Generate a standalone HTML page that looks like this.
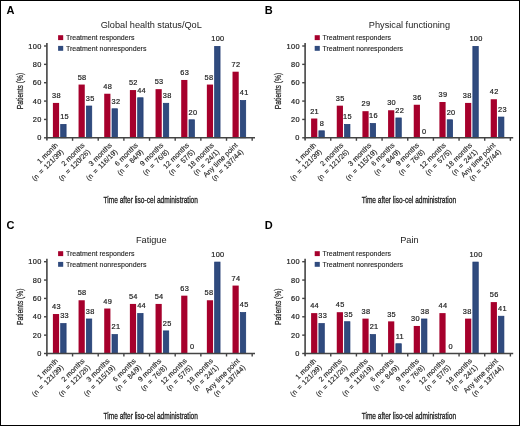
<!DOCTYPE html>
<html><head><meta charset="utf-8"><style>
html,body{margin:0;padding:0;background:#fff;}
svg{display:block;will-change:transform;}
text{font-family:"Liberation Sans", sans-serif;fill:#222;}
.let{font-size:11px;font-weight:bold;fill:#000;}
.ttl{font-size:9.2px;text-anchor:middle;}
.leg{font-size:7.4px;stroke:#222;stroke-width:0.12px;}
.axt{font-size:9.5px;stroke:#222;stroke-width:0.32px;}
.yt{stroke-width:0.25px;}
.num{font-size:7.4px;letter-spacing:0.3px;text-anchor:middle;stroke:#222;stroke-width:0.2px;}
.ytl{font-size:7.4px;letter-spacing:0.3px;text-anchor:end;stroke:#222;stroke-width:0.2px;}
.cat{font-size:7.2px;text-anchor:end;stroke:#222;stroke-width:0.12px;}
.l2{word-spacing:1.1px;}
</style></head><body>
<svg width="520" height="426" viewBox="0 0 520 426">
<rect x="0" y="0" width="520" height="426" fill="#fff"/>
<g transform="translate(0,0)">
<text class="let" x="6.6" y="13.7">A</text>
<text class="ttl" x="151.25" y="27.7">Global health status/QoL</text>
<rect x="58.1" y="35.2" width="5.1" height="4.9" fill="#a6002c"/>
<rect x="58.1" y="45.9" width="5.1" height="4.9" fill="#304b7e"/>
<text class="leg" x="65.9" y="39.6" textLength="68.6" lengthAdjust="spacingAndGlyphs">Treatment responders</text>
<text class="leg" x="65.9" y="50.6" textLength="80.5" lengthAdjust="spacingAndGlyphs">Treatment nonresponders</text>
<text class="axt yt" transform="translate(22.8,91) rotate(-90)" text-anchor="middle" textLength="36.5" lengthAdjust="spacingAndGlyphs">Patients (%)</text>
<text class="axt" x="150.7" y="203.1" text-anchor="middle" textLength="94.5" lengthAdjust="spacingAndGlyphs">Time after liso-cel administration</text>
<rect x="52.9" y="102.92" width="6.2" height="34.88" fill="#a6002c"/>
<rect x="60.7" y="124.38" width="5.4" height="13.42" fill="#304b7e" stroke="#1c3870" stroke-width="0.7"/>
<text class="num" x="56.4" y="98.12">38</text>
<text class="num" x="64.6" y="119.23">15</text>
<rect x="78.56" y="84.56" width="6.2" height="53.24" fill="#a6002c"/>
<rect x="86.36" y="106.02" width="5.4" height="31.78" fill="#304b7e" stroke="#1c3870" stroke-width="0.7"/>
<text class="num" x="82.06" y="79.76">58</text>
<text class="num" x="90.26" y="100.87">35</text>
<rect x="104.22" y="93.74" width="6.2" height="44.06" fill="#a6002c"/>
<rect x="112.02" y="108.77" width="5.4" height="29.03" fill="#304b7e" stroke="#1c3870" stroke-width="0.7"/>
<text class="num" x="107.72" y="88.94">48</text>
<text class="num" x="115.92" y="103.62">32</text>
<rect x="129.88" y="90.06" width="6.2" height="47.74" fill="#a6002c"/>
<rect x="137.68" y="97.76" width="5.4" height="40.04" fill="#304b7e" stroke="#1c3870" stroke-width="0.7"/>
<text class="num" x="133.38" y="85.26">52</text>
<text class="num" x="141.58" y="92.61">44</text>
<rect x="155.54" y="89.15" width="6.2" height="48.65" fill="#a6002c"/>
<rect x="163.34" y="103.27" width="5.4" height="34.53" fill="#304b7e" stroke="#1c3870" stroke-width="0.7"/>
<text class="num" x="159.04" y="84.35">53</text>
<text class="num" x="167.24" y="98.12">38</text>
<rect x="181.2" y="79.97" width="6.2" height="57.83" fill="#a6002c"/>
<rect x="189" y="119.79" width="5.4" height="18.01" fill="#304b7e" stroke="#1c3870" stroke-width="0.7"/>
<text class="num" x="184.7" y="75.17">63</text>
<text class="num" x="192.9" y="114.64">20</text>
<rect x="206.86" y="84.56" width="6.2" height="53.24" fill="#a6002c"/>
<rect x="214.66" y="46.35" width="5.4" height="91.45" fill="#304b7e" stroke="#1c3870" stroke-width="0.7"/>
<text class="num" x="208.96" y="79.76">58</text>
<text class="num" x="217.86" y="41.2">100</text>
<rect x="232.52" y="71.7" width="6.2" height="66.1" fill="#a6002c"/>
<rect x="240.32" y="100.51" width="5.4" height="37.29" fill="#304b7e" stroke="#1c3870" stroke-width="0.7"/>
<text class="num" x="236.02" y="66.9">72</text>
<text class="num" x="244.22" y="95.36">41</text>
<line x1="46.9" y1="43" x2="46.9" y2="140.6" stroke="#444" stroke-width="1.6"/>
<line x1="46.1" y1="137.8" x2="255" y2="137.8" stroke="#444" stroke-width="1.6"/>
<line x1="44" y1="137.8" x2="46.9" y2="137.8" stroke="#444" stroke-width="1.4"/>
<text class="ytl" x="41.6" y="140.35">0</text>
<line x1="44" y1="119.44" x2="46.9" y2="119.44" stroke="#444" stroke-width="1.4"/>
<text class="ytl" x="41.6" y="121.99">20</text>
<line x1="44" y1="101.08" x2="46.9" y2="101.08" stroke="#444" stroke-width="1.4"/>
<text class="ytl" x="41.6" y="103.63">40</text>
<line x1="44" y1="82.72" x2="46.9" y2="82.72" stroke="#444" stroke-width="1.4"/>
<text class="ytl" x="41.6" y="85.27">60</text>
<line x1="44" y1="64.36" x2="46.9" y2="64.36" stroke="#444" stroke-width="1.4"/>
<text class="ytl" x="41.6" y="66.91">80</text>
<line x1="44" y1="46" x2="46.9" y2="46" stroke="#444" stroke-width="1.4"/>
<text class="ytl" x="41.6" y="48.55">100</text>
<line x1="72.56" y1="137.8" x2="72.56" y2="140.8" stroke="#444" stroke-width="1.4"/>
<line x1="98.22" y1="137.8" x2="98.22" y2="140.8" stroke="#444" stroke-width="1.4"/>
<line x1="123.88" y1="137.8" x2="123.88" y2="140.8" stroke="#444" stroke-width="1.4"/>
<line x1="149.54" y1="137.8" x2="149.54" y2="140.8" stroke="#444" stroke-width="1.4"/>
<line x1="175.2" y1="137.8" x2="175.2" y2="140.8" stroke="#444" stroke-width="1.4"/>
<line x1="200.86" y1="137.8" x2="200.86" y2="140.8" stroke="#444" stroke-width="1.4"/>
<line x1="226.52" y1="137.8" x2="226.52" y2="140.8" stroke="#444" stroke-width="1.4"/>
<line x1="252.18" y1="137.8" x2="252.18" y2="140.8" stroke="#444" stroke-width="1.4"/>
<text class="cat" transform="translate(57.87,146.2) rotate(-45)"><tspan x="0.8" y="0">1 month</tspan><tspan class="l2" x="0" y="8.5">(n = 121/39)</tspan></text>
<text class="cat" transform="translate(84.57,146.2) rotate(-45)"><tspan x="0.8" y="0">2 months</tspan><tspan class="l2" x="0" y="8.5">(n = 120/26)</tspan></text>
<text class="cat" transform="translate(111.81,146.2) rotate(-45)"><tspan x="0.8" y="0">3 months</tspan><tspan class="l2" x="0" y="8.5">(n = 116/19)</tspan></text>
<text class="cat" transform="translate(137.81,146.2) rotate(-45)"><tspan x="0.8" y="0">6 months</tspan><tspan class="l2" x="0" y="8.5">(n = 84/9)</tspan></text>
<text class="cat" transform="translate(163.17,146.2) rotate(-45)"><tspan x="0.8" y="0">9 months</tspan><tspan class="l2" x="0" y="8.5">(n = 76/8)</tspan></text>
<text class="cat" transform="translate(189.07,146.2) rotate(-45)"><tspan x="0.8" y="0">12 months</tspan><tspan class="l2" x="0" y="8.5">(n = 57/5)</tspan></text>
<text class="cat" transform="translate(213.81,146.2) rotate(-45)"><tspan x="0.8" y="0">18 months</tspan><tspan class="l2" x="0" y="8.5">(n = 24/1)</tspan></text>
<text class="cat" transform="translate(237.67,146.2) rotate(-45)"><tspan x="0.8" y="0">Any time point</tspan><tspan class="l2" x="0" y="8.5">(n = 137/44)</tspan></text>
</g>
<g transform="translate(258.2,0)">
<text class="let" x="6.6" y="13.7">B</text>
<text class="ttl" x="151.25" y="27.7">Physical functioning</text>
<rect x="56.5" y="35.2" width="5.1" height="4.9" fill="#a6002c"/>
<rect x="56.5" y="45.9" width="5.1" height="4.9" fill="#304b7e"/>
<text class="leg" x="64.3" y="39.6" textLength="68.6" lengthAdjust="spacingAndGlyphs">Treatment responders</text>
<text class="leg" x="64.3" y="50.6" textLength="80.5" lengthAdjust="spacingAndGlyphs">Treatment nonresponders</text>
<text class="axt yt" transform="translate(22.8,91) rotate(-90)" text-anchor="middle" textLength="36.5" lengthAdjust="spacingAndGlyphs">Patients (%)</text>
<text class="axt" x="150.7" y="203.1" text-anchor="middle" textLength="94.5" lengthAdjust="spacingAndGlyphs">Time after liso-cel administration</text>
<rect x="52.9" y="118.52" width="6.2" height="19.28" fill="#a6002c"/>
<rect x="60.7" y="130.81" width="5.4" height="6.99" fill="#304b7e" stroke="#1c3870" stroke-width="0.7"/>
<text class="num" x="56.4" y="113.72">21</text>
<text class="num" x="63.8" y="125.66">8</text>
<rect x="78.56" y="105.67" width="6.2" height="32.13" fill="#a6002c"/>
<rect x="86.36" y="124.38" width="5.4" height="13.42" fill="#304b7e" stroke="#1c3870" stroke-width="0.7"/>
<text class="num" x="82.06" y="100.87">35</text>
<text class="num" x="89.26" y="119.23">15</text>
<rect x="104.22" y="111.18" width="6.2" height="26.62" fill="#a6002c"/>
<rect x="112.02" y="123.46" width="5.4" height="14.34" fill="#304b7e" stroke="#1c3870" stroke-width="0.7"/>
<text class="num" x="107.72" y="106.38">29</text>
<text class="num" x="115.32" y="118.31">16</text>
<rect x="129.88" y="110.26" width="6.2" height="27.54" fill="#a6002c"/>
<rect x="137.68" y="117.95" width="5.4" height="19.85" fill="#304b7e" stroke="#1c3870" stroke-width="0.7"/>
<text class="num" x="133.38" y="105.46">30</text>
<text class="num" x="141.58" y="112.8">22</text>
<rect x="155.54" y="104.75" width="6.2" height="33.05" fill="#a6002c"/>
<text class="num" x="159.04" y="99.95">36</text>
<text class="num" x="166.04" y="134.4">0</text>
<rect x="181.2" y="102" width="6.2" height="35.8" fill="#a6002c"/>
<rect x="189" y="119.79" width="5.4" height="18.01" fill="#304b7e" stroke="#1c3870" stroke-width="0.7"/>
<text class="num" x="184.7" y="97.2">39</text>
<text class="num" x="192.9" y="114.64">20</text>
<rect x="206.86" y="102.92" width="6.2" height="34.88" fill="#a6002c"/>
<rect x="214.66" y="46.35" width="5.4" height="91.45" fill="#304b7e" stroke="#1c3870" stroke-width="0.7"/>
<text class="num" x="208.96" y="98.12">38</text>
<text class="num" x="217.86" y="41.2">100</text>
<rect x="232.52" y="99.24" width="6.2" height="38.56" fill="#a6002c"/>
<rect x="240.32" y="117.04" width="5.4" height="20.76" fill="#304b7e" stroke="#1c3870" stroke-width="0.7"/>
<text class="num" x="236.02" y="94.44">42</text>
<text class="num" x="244.22" y="111.89">23</text>
<line x1="46.9" y1="43" x2="46.9" y2="140.6" stroke="#444" stroke-width="1.6"/>
<line x1="46.1" y1="137.8" x2="255" y2="137.8" stroke="#444" stroke-width="1.6"/>
<line x1="44" y1="137.8" x2="46.9" y2="137.8" stroke="#444" stroke-width="1.4"/>
<text class="ytl" x="41.6" y="140.35">0</text>
<line x1="44" y1="119.44" x2="46.9" y2="119.44" stroke="#444" stroke-width="1.4"/>
<text class="ytl" x="41.6" y="121.99">20</text>
<line x1="44" y1="101.08" x2="46.9" y2="101.08" stroke="#444" stroke-width="1.4"/>
<text class="ytl" x="41.6" y="103.63">40</text>
<line x1="44" y1="82.72" x2="46.9" y2="82.72" stroke="#444" stroke-width="1.4"/>
<text class="ytl" x="41.6" y="85.27">60</text>
<line x1="44" y1="64.36" x2="46.9" y2="64.36" stroke="#444" stroke-width="1.4"/>
<text class="ytl" x="41.6" y="66.91">80</text>
<line x1="44" y1="46" x2="46.9" y2="46" stroke="#444" stroke-width="1.4"/>
<text class="ytl" x="41.6" y="48.55">100</text>
<line x1="72.56" y1="137.8" x2="72.56" y2="140.8" stroke="#444" stroke-width="1.4"/>
<line x1="98.22" y1="137.8" x2="98.22" y2="140.8" stroke="#444" stroke-width="1.4"/>
<line x1="123.88" y1="137.8" x2="123.88" y2="140.8" stroke="#444" stroke-width="1.4"/>
<line x1="149.54" y1="137.8" x2="149.54" y2="140.8" stroke="#444" stroke-width="1.4"/>
<line x1="175.2" y1="137.8" x2="175.2" y2="140.8" stroke="#444" stroke-width="1.4"/>
<line x1="200.86" y1="137.8" x2="200.86" y2="140.8" stroke="#444" stroke-width="1.4"/>
<line x1="226.52" y1="137.8" x2="226.52" y2="140.8" stroke="#444" stroke-width="1.4"/>
<line x1="252.18" y1="137.8" x2="252.18" y2="140.8" stroke="#444" stroke-width="1.4"/>
<text class="cat" transform="translate(57.87,146.2) rotate(-45)"><tspan x="0.8" y="0">1 month</tspan><tspan class="l2" x="0" y="8.5">(n = 121/39)</tspan></text>
<text class="cat" transform="translate(85.07,146.2) rotate(-45)"><tspan x="0.8" y="0">2 months</tspan><tspan class="l2" x="0" y="8.5">(n = 121/26)</tspan></text>
<text class="cat" transform="translate(113.11,146.2) rotate(-45)"><tspan x="0.8" y="0">3 months</tspan><tspan class="l2" x="0" y="8.5">(n = 115/19)</tspan></text>
<text class="cat" transform="translate(136.21,146.2) rotate(-45)"><tspan x="0.8" y="0">6 months</tspan><tspan class="l2" x="0" y="8.5">(n = 84/9)</tspan></text>
<text class="cat" transform="translate(160.77,146.2) rotate(-45)"><tspan x="0.8" y="0">9 months</tspan><tspan class="l2" x="0" y="8.5">(n = 76/8)</tspan></text>
<text class="cat" transform="translate(187.47,146.2) rotate(-45)"><tspan x="0.8" y="0">12 months</tspan><tspan class="l2" x="0" y="8.5">(n = 57/5)</tspan></text>
<text class="cat" transform="translate(213.81,146.2) rotate(-45)"><tspan x="0.8" y="0">18 months</tspan><tspan class="l2" x="0" y="8.5">(n = 24/1)</tspan></text>
<text class="cat" transform="translate(237.17,146.2) rotate(-45)"><tspan x="0.8" y="0">Any time point</tspan><tspan class="l2" x="0" y="8.5">(n = 137/44)</tspan></text>
</g>
<g transform="translate(0,215.7)">
<text class="let" x="6.6" y="13.7">C</text>
<text class="ttl" x="151.25" y="27.7">Fatigue</text>
<rect x="58.1" y="35.5" width="5.1" height="4.9" fill="#a6002c"/>
<rect x="58.1" y="46.2" width="5.1" height="4.9" fill="#304b7e"/>
<text class="leg" x="65.9" y="39.9" textLength="68.6" lengthAdjust="spacingAndGlyphs">Treatment responders</text>
<text class="leg" x="65.9" y="50.9" textLength="80.5" lengthAdjust="spacingAndGlyphs">Treatment nonresponders</text>
<text class="axt yt" transform="translate(22.8,91) rotate(-90)" text-anchor="middle" textLength="36.5" lengthAdjust="spacingAndGlyphs">Patients (%)</text>
<text class="axt" x="150.7" y="203.1" text-anchor="middle" textLength="94.5" lengthAdjust="spacingAndGlyphs">Time after liso-cel administration</text>
<rect x="52.9" y="98.33" width="6.2" height="39.47" fill="#a6002c"/>
<rect x="60.7" y="107.86" width="5.4" height="29.94" fill="#304b7e" stroke="#1c3870" stroke-width="0.7"/>
<text class="num" x="56.4" y="93.53">43</text>
<text class="num" x="64.6" y="102.71">33</text>
<rect x="78.56" y="84.56" width="6.2" height="53.24" fill="#a6002c"/>
<rect x="86.36" y="103.27" width="5.4" height="34.53" fill="#304b7e" stroke="#1c3870" stroke-width="0.7"/>
<text class="num" x="82.06" y="79.76">58</text>
<text class="num" x="90.26" y="98.12">38</text>
<rect x="104.22" y="92.82" width="6.2" height="44.98" fill="#a6002c"/>
<rect x="112.02" y="118.87" width="5.4" height="18.93" fill="#304b7e" stroke="#1c3870" stroke-width="0.7"/>
<text class="num" x="107.72" y="88.02">49</text>
<text class="num" x="115.92" y="113.72">21</text>
<rect x="129.88" y="88.23" width="6.2" height="49.57" fill="#a6002c"/>
<rect x="137.68" y="97.76" width="5.4" height="40.04" fill="#304b7e" stroke="#1c3870" stroke-width="0.7"/>
<text class="num" x="133.38" y="83.43">54</text>
<text class="num" x="141.58" y="92.61">44</text>
<rect x="155.54" y="88.23" width="6.2" height="49.57" fill="#a6002c"/>
<rect x="163.34" y="115.2" width="5.4" height="22.6" fill="#304b7e" stroke="#1c3870" stroke-width="0.7"/>
<text class="num" x="159.04" y="83.43">54</text>
<text class="num" x="167.24" y="110.05">25</text>
<rect x="181.2" y="79.97" width="6.2" height="57.83" fill="#a6002c"/>
<text class="num" x="184.7" y="75.17">63</text>
<text class="num" x="192.1" y="133">0</text>
<rect x="206.86" y="84.56" width="6.2" height="53.24" fill="#a6002c"/>
<rect x="214.66" y="46.35" width="5.4" height="91.45" fill="#304b7e" stroke="#1c3870" stroke-width="0.7"/>
<text class="num" x="208.96" y="79.76">58</text>
<text class="num" x="217.86" y="41.2">100</text>
<rect x="232.52" y="69.87" width="6.2" height="67.93" fill="#a6002c"/>
<rect x="240.32" y="96.84" width="5.4" height="40.96" fill="#304b7e" stroke="#1c3870" stroke-width="0.7"/>
<text class="num" x="236.02" y="65.07">74</text>
<text class="num" x="244.22" y="91.69">45</text>
<line x1="46.9" y1="43" x2="46.9" y2="140.6" stroke="#444" stroke-width="1.6"/>
<line x1="46.1" y1="137.8" x2="255" y2="137.8" stroke="#444" stroke-width="1.6"/>
<line x1="44" y1="137.8" x2="46.9" y2="137.8" stroke="#444" stroke-width="1.4"/>
<text class="ytl" x="41.6" y="140.35">0</text>
<line x1="44" y1="119.44" x2="46.9" y2="119.44" stroke="#444" stroke-width="1.4"/>
<text class="ytl" x="41.6" y="121.99">20</text>
<line x1="44" y1="101.08" x2="46.9" y2="101.08" stroke="#444" stroke-width="1.4"/>
<text class="ytl" x="41.6" y="103.63">40</text>
<line x1="44" y1="82.72" x2="46.9" y2="82.72" stroke="#444" stroke-width="1.4"/>
<text class="ytl" x="41.6" y="85.27">60</text>
<line x1="44" y1="64.36" x2="46.9" y2="64.36" stroke="#444" stroke-width="1.4"/>
<text class="ytl" x="41.6" y="66.91">80</text>
<line x1="44" y1="46" x2="46.9" y2="46" stroke="#444" stroke-width="1.4"/>
<text class="ytl" x="41.6" y="48.55">100</text>
<line x1="72.56" y1="137.8" x2="72.56" y2="140.8" stroke="#444" stroke-width="1.4"/>
<line x1="98.22" y1="137.8" x2="98.22" y2="140.8" stroke="#444" stroke-width="1.4"/>
<line x1="123.88" y1="137.8" x2="123.88" y2="140.8" stroke="#444" stroke-width="1.4"/>
<line x1="149.54" y1="137.8" x2="149.54" y2="140.8" stroke="#444" stroke-width="1.4"/>
<line x1="175.2" y1="137.8" x2="175.2" y2="140.8" stroke="#444" stroke-width="1.4"/>
<line x1="200.86" y1="137.8" x2="200.86" y2="140.8" stroke="#444" stroke-width="1.4"/>
<line x1="226.52" y1="137.8" x2="226.52" y2="140.8" stroke="#444" stroke-width="1.4"/>
<line x1="252.18" y1="137.8" x2="252.18" y2="140.8" stroke="#444" stroke-width="1.4"/>
<text class="cat" transform="translate(57.87,146.2) rotate(-45)"><tspan x="0.8" y="0">1 month</tspan><tspan class="l2" x="0" y="8.5">(n = 121/39)</tspan></text>
<text class="cat" transform="translate(84.57,146.2) rotate(-45)"><tspan x="0.8" y="0">2 months</tspan><tspan class="l2" x="0" y="8.5">(n = 121/26)</tspan></text>
<text class="cat" transform="translate(109.51,146.2) rotate(-45)"><tspan x="0.8" y="0">3 months</tspan><tspan class="l2" x="0" y="8.5">(n = 115/19)</tspan></text>
<text class="cat" transform="translate(135.81,146.2) rotate(-45)"><tspan x="0.8" y="0">6 months</tspan><tspan class="l2" x="0" y="8.5">(n = 84/9)</tspan></text>
<text class="cat" transform="translate(161.17,146.2) rotate(-45)"><tspan x="0.8" y="0">9 months</tspan><tspan class="l2" x="0" y="8.5">(n = 76/8)</tspan></text>
<text class="cat" transform="translate(186.67,146.2) rotate(-45)"><tspan x="0.8" y="0">12 months</tspan><tspan class="l2" x="0" y="8.5">(n = 57/5)</tspan></text>
<text class="cat" transform="translate(212.91,146.2) rotate(-45)"><tspan x="0.8" y="0">18 months</tspan><tspan class="l2" x="0" y="8.5">(n = 24/1)</tspan></text>
<text class="cat" transform="translate(239.67,146.2) rotate(-45)"><tspan x="0.8" y="0">Any time point</tspan><tspan class="l2" x="0" y="8.5">(n = 137/44)</tspan></text>
</g>
<g transform="translate(258.2,215.7)">
<text class="let" x="6.6" y="13.7">D</text>
<text class="ttl" x="151.25" y="27.7">Pain</text>
<rect x="56.5" y="35.5" width="5.1" height="4.9" fill="#a6002c"/>
<rect x="56.5" y="46.2" width="5.1" height="4.9" fill="#304b7e"/>
<text class="leg" x="64.3" y="39.9" textLength="68.6" lengthAdjust="spacingAndGlyphs">Treatment responders</text>
<text class="leg" x="64.3" y="50.9" textLength="80.5" lengthAdjust="spacingAndGlyphs">Treatment nonresponders</text>
<text class="axt yt" transform="translate(22.8,91) rotate(-90)" text-anchor="middle" textLength="36.5" lengthAdjust="spacingAndGlyphs">Patients (%)</text>
<text class="axt" x="150.7" y="203.1" text-anchor="middle" textLength="94.5" lengthAdjust="spacingAndGlyphs">Time after liso-cel administration</text>
<rect x="52.9" y="97.41" width="6.2" height="40.39" fill="#a6002c"/>
<rect x="60.7" y="107.86" width="5.4" height="29.94" fill="#304b7e" stroke="#1c3870" stroke-width="0.7"/>
<text class="num" x="56.4" y="92.61">44</text>
<text class="num" x="64.6" y="102.71">33</text>
<rect x="78.56" y="96.49" width="6.2" height="41.31" fill="#a6002c"/>
<rect x="86.36" y="106.02" width="5.4" height="31.78" fill="#304b7e" stroke="#1c3870" stroke-width="0.7"/>
<text class="num" x="82.06" y="91.69">45</text>
<text class="num" x="90.26" y="100.87">35</text>
<rect x="104.22" y="102.92" width="6.2" height="34.88" fill="#a6002c"/>
<rect x="112.02" y="118.87" width="5.4" height="18.93" fill="#304b7e" stroke="#1c3870" stroke-width="0.7"/>
<text class="num" x="107.72" y="98.12">38</text>
<text class="num" x="115.92" y="113.72">21</text>
<rect x="129.88" y="105.67" width="6.2" height="32.13" fill="#a6002c"/>
<rect x="137.68" y="128.05" width="5.4" height="9.75" fill="#304b7e" stroke="#1c3870" stroke-width="0.7"/>
<text class="num" x="133.38" y="100.87">35</text>
<text class="num" x="141.58" y="122.9">11</text>
<rect x="155.54" y="110.26" width="6.2" height="27.54" fill="#a6002c"/>
<rect x="163.34" y="103.27" width="5.4" height="34.53" fill="#304b7e" stroke="#1c3870" stroke-width="0.7"/>
<text class="num" x="157.24" y="105.46">30</text>
<text class="num" x="166.74" y="98.12">38</text>
<rect x="181.2" y="97.41" width="6.2" height="40.39" fill="#a6002c"/>
<text class="num" x="184.7" y="92.61">44</text>
<text class="num" x="192.4" y="133">0</text>
<rect x="206.86" y="102.92" width="6.2" height="34.88" fill="#a6002c"/>
<rect x="214.66" y="46.35" width="5.4" height="91.45" fill="#304b7e" stroke="#1c3870" stroke-width="0.7"/>
<text class="num" x="208.96" y="98.12">38</text>
<text class="num" x="217.86" y="41.2">100</text>
<rect x="232.52" y="86.39" width="6.2" height="51.41" fill="#a6002c"/>
<rect x="240.32" y="100.51" width="5.4" height="37.29" fill="#304b7e" stroke="#1c3870" stroke-width="0.7"/>
<text class="num" x="236.02" y="81.59">56</text>
<text class="num" x="244.22" y="95.36">41</text>
<line x1="46.9" y1="43" x2="46.9" y2="140.6" stroke="#444" stroke-width="1.6"/>
<line x1="46.1" y1="137.8" x2="255" y2="137.8" stroke="#444" stroke-width="1.6"/>
<line x1="44" y1="137.8" x2="46.9" y2="137.8" stroke="#444" stroke-width="1.4"/>
<text class="ytl" x="41.6" y="140.35">0</text>
<line x1="44" y1="119.44" x2="46.9" y2="119.44" stroke="#444" stroke-width="1.4"/>
<text class="ytl" x="41.6" y="121.99">20</text>
<line x1="44" y1="101.08" x2="46.9" y2="101.08" stroke="#444" stroke-width="1.4"/>
<text class="ytl" x="41.6" y="103.63">40</text>
<line x1="44" y1="82.72" x2="46.9" y2="82.72" stroke="#444" stroke-width="1.4"/>
<text class="ytl" x="41.6" y="85.27">60</text>
<line x1="44" y1="64.36" x2="46.9" y2="64.36" stroke="#444" stroke-width="1.4"/>
<text class="ytl" x="41.6" y="66.91">80</text>
<line x1="44" y1="46" x2="46.9" y2="46" stroke="#444" stroke-width="1.4"/>
<text class="ytl" x="41.6" y="48.55">100</text>
<line x1="72.56" y1="137.8" x2="72.56" y2="140.8" stroke="#444" stroke-width="1.4"/>
<line x1="98.22" y1="137.8" x2="98.22" y2="140.8" stroke="#444" stroke-width="1.4"/>
<line x1="123.88" y1="137.8" x2="123.88" y2="140.8" stroke="#444" stroke-width="1.4"/>
<line x1="149.54" y1="137.8" x2="149.54" y2="140.8" stroke="#444" stroke-width="1.4"/>
<line x1="175.2" y1="137.8" x2="175.2" y2="140.8" stroke="#444" stroke-width="1.4"/>
<line x1="200.86" y1="137.8" x2="200.86" y2="140.8" stroke="#444" stroke-width="1.4"/>
<line x1="226.52" y1="137.8" x2="226.52" y2="140.8" stroke="#444" stroke-width="1.4"/>
<line x1="252.18" y1="137.8" x2="252.18" y2="140.8" stroke="#444" stroke-width="1.4"/>
<text class="cat" transform="translate(57.87,146.2) rotate(-45)"><tspan x="0.8" y="0">1 month</tspan><tspan class="l2" x="0" y="8.5">(n = 121/39)</tspan></text>
<text class="cat" transform="translate(83.57,146.2) rotate(-45)"><tspan x="0.8" y="0">2 months</tspan><tspan class="l2" x="0" y="8.5">(n = 121/26)</tspan></text>
<text class="cat" transform="translate(109.51,146.2) rotate(-45)"><tspan x="0.8" y="0">3 months</tspan><tspan class="l2" x="0" y="8.5">(n = 116/19)</tspan></text>
<text class="cat" transform="translate(135.21,146.2) rotate(-45)"><tspan x="0.8" y="0">6 months</tspan><tspan class="l2" x="0" y="8.5">(n = 84/9)</tspan></text>
<text class="cat" transform="translate(160.77,146.2) rotate(-45)"><tspan x="0.8" y="0">9 months</tspan><tspan class="l2" x="0" y="8.5">(n = 76/8)</tspan></text>
<text class="cat" transform="translate(186.77,146.2) rotate(-45)"><tspan x="0.8" y="0">12 months</tspan><tspan class="l2" x="0" y="8.5">(n = 57/5)</tspan></text>
<text class="cat" transform="translate(213.81,146.2) rotate(-45)"><tspan x="0.8" y="0">18 months</tspan><tspan class="l2" x="0" y="8.5">(n = 24/1)</tspan></text>
<text class="cat" transform="translate(239.67,146.2) rotate(-45)"><tspan x="0.8" y="0">Any time point</tspan><tspan class="l2" x="0" y="8.5">(n = 137/44)</tspan></text>
</g>
<rect x="0.5" y="0.5" width="519" height="425" fill="none" stroke="#000" stroke-width="1"/>
</svg>
</body></html>
